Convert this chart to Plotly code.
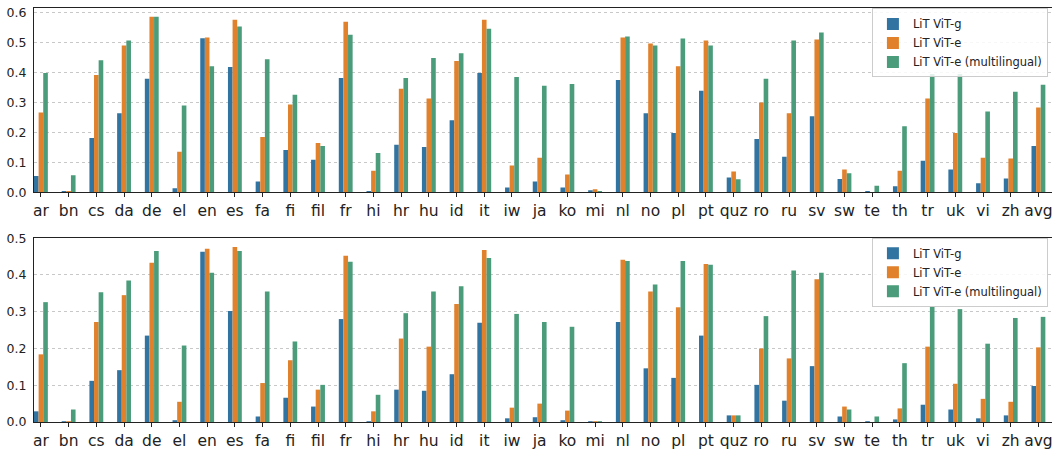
import plotly.graph_objects as go

languages = ["ar", "bn", "cs", "da", "de", "el", "en", "es", "fa", "fi", "fil", "fr",
             "hi", "hr", "hu", "id", "it", "iw", "ja", "ko", "mi", "nl", "no", "pl",
             "pt", "quz", "ro", "ru", "sv", "sw", "te", "th", "tr", "uk", "vi", "zh", "avg"]

series_names = ["LiT ViT-g", "LiT ViT-e", "LiT ViT-e (multilingual)"]

top_vit_g = [0.054, 0.001, 0.181, 0.263, 0.378, 0.013, 0.513, 0.417, 0.036, 0.141, 0.108, 0.381,
             0.003, 0.158, 0.151, 0.240, 0.397, 0.016, 0.036, 0.016, 0.007, 0.374, 0.263, 0.197,
             0.338, 0.049, 0.177, 0.118, 0.253, 0.044, 0.001, 0.020, 0.105, 0.076, 0.030, 0.046, 0.154]
top_vit_e = [0.266, 0.001, 0.391, 0.489, 0.585, 0.135, 0.516, 0.575, 0.184, 0.292, 0.164, 0.568,
             0.072, 0.345, 0.312, 0.437, 0.575, 0.089, 0.115, 0.059, 0.010, 0.516, 0.496, 0.420,
             0.506, 0.069, 0.299, 0.263, 0.509, 0.076, 0.000, 0.072, 0.312, 0.197, 0.115, 0.112, 0.282]
top_vit_e_ml = [0.397, 0.057, 0.440, 0.506, 0.585, 0.289, 0.420, 0.552, 0.443, 0.325, 0.154, 0.525,
                0.131, 0.381, 0.447, 0.463, 0.545, 0.384, 0.355, 0.361, 0.003, 0.519, 0.489, 0.512,
                0.489, 0.043, 0.378, 0.506, 0.532, 0.063, 0.022, 0.220, 0.394, 0.394, 0.269, 0.335, 0.358]

bot_vit_g = [0.029, 0.001, 0.112, 0.141, 0.235, 0.004, 0.463, 0.302, 0.015, 0.066, 0.042, 0.280,
             0.002, 0.088, 0.085, 0.130, 0.270, 0.010, 0.013, 0.004, 0.002, 0.272, 0.146, 0.120,
             0.235, 0.018, 0.101, 0.058, 0.152, 0.015, 0.001, 0.007, 0.047, 0.034, 0.010, 0.018, 0.098]
bot_vit_e = [0.184, 0.002, 0.272, 0.345, 0.433, 0.055, 0.471, 0.476, 0.106, 0.168, 0.088, 0.452,
             0.029, 0.227, 0.205, 0.321, 0.468, 0.039, 0.050, 0.031, 0.002, 0.441, 0.355, 0.312,
             0.430, 0.018, 0.200, 0.173, 0.388, 0.042, 0.000, 0.037, 0.205, 0.104, 0.063, 0.055, 0.203]
bot_vit_e_ml = [0.326, 0.034, 0.353, 0.385, 0.465, 0.208, 0.406, 0.465, 0.355, 0.219, 0.101, 0.436,
                0.074, 0.296, 0.355, 0.369, 0.446, 0.294, 0.272, 0.259, 0.002, 0.438, 0.374, 0.438,
                0.428, 0.018, 0.288, 0.412, 0.406, 0.034, 0.015, 0.160, 0.315, 0.307, 0.213, 0.283, 0.286]

colors = ["#3274A1", "#E1812C", "#4A9C7A"]
FONT = "DejaVu Sans"

fig = go.Figure()
top_data = [top_vit_g, top_vit_e, top_vit_e_ml]
bot_data = [bot_vit_g, bot_vit_e, bot_vit_e_ml]
for name, vals, c in zip(series_names, top_data, colors):
    fig.add_trace(go.Bar(x=languages, y=vals, name=name, marker=dict(color=c, line=dict(width=0)),
                         xaxis="x", yaxis="y", legend="legend"))
for name, vals, c in zip(series_names, bot_data, colors):
    fig.add_trace(go.Bar(x=languages, y=vals, name=name, marker=dict(color=c, line=dict(width=0)),
                         xaxis="x2", yaxis="y2", legend="legend2"))

xcommon = dict(type="category", range=[-0.25, 36.49], showline=True, linecolor="#222",
               linewidth=1.2, mirror=True, ticks="outside", ticklen=4, tickcolor="#222",
               tickfont=dict(family=FONT, size=15.5, color="#222"), showgrid=False, zeroline=False)
ycommon = dict(showline=True, linecolor="#222", linewidth=1.2, ticks="", showgrid=True,
               gridcolor="#c8c8c8", griddash="dot", gridwidth=1, zeroline=False,
               tickformat=".1f", dtick=0.1, tick0=0,
               tickfont=dict(family=FONT, size=12.5, color="#222"), ticklabelstandoff=4)

legcommon = dict(font=dict(family=FONT, size=11.5, color="#222"), bgcolor="rgba(255,255,255,0.85)",
                 bordercolor="#cccccc", borderwidth=1, xanchor="right", yanchor="top",
                 tracegroupgap=0, itemwidth=30)

fig.update_layout(
    width=1053, height=450,
    margin=dict(l=34, r=0, t=4, b=25),
    plot_bgcolor="white", paper_bgcolor="white",
    barmode="group", bargap=0.5, bargroupgap=0,
    xaxis=dict(domain=[0, 1], anchor="y", **xcommon),
    yaxis=dict(domain=[0.555, 1], anchor="x", range=[0, 0.614], **ycommon),
    xaxis2=dict(domain=[0, 1], anchor="y2", **xcommon),
    yaxis2=dict(domain=[0, 0.444], anchor="x2", range=[0, 0.5], **ycommon),
    legend=dict(x=0.996, y=0.999, **legcommon),
    legend2=dict(x=0.996, y=0.445, **legcommon),
)

fig.write_html("out.html", config={"displayModeBar": False},
               post_script="document.body.style.margin='0';document.body.style.padding='0';"
                           "document.body.style.overflow='hidden';")
